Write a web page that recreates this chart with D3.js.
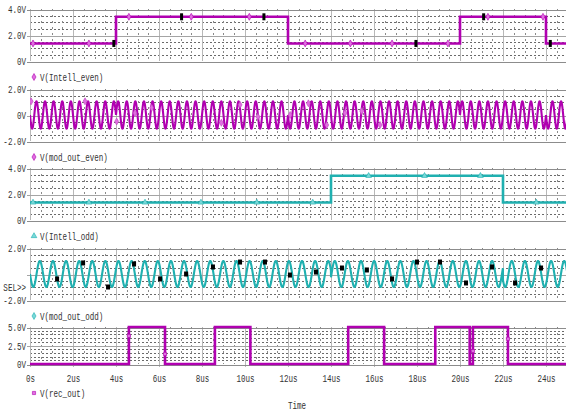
<!DOCTYPE html>
<html><head><meta charset="utf-8">
<script src="https://cdn.jsdelivr.net/npm/d3@7"></script>
<style>
html,body{margin:0;padding:0;background:#fff;}
svg{display:block;}
text{font-family:"Liberation Mono","DejaVu Sans Mono",monospace;font-size:10.5px;fill:#333;}
</style></head><body>
<svg id="chart" width="566" height="413"></svg>
<script>
// ---------------- DATA ----------------
const timeTickValuesUs = [0,2,4,6,8,10,12,14,16,18,20,22,24];
const timeTickLabels = ["0s","2us","4us","6us","8us","10us","12us","14us","16us","18us","20us","22us","24us"];

const panelNames = ["V(Intell_even)","V(mod_out_even)","V(Intell_odd)","V(mod_out_odd)","V(rec_out)"];
const panelYMin = [0,-2,0,-2,0];
const panelYMax = [4,2,4,2,5];
const panelTickValues = [[0,2,4],[-2,0,2],[0,2,4],[-2,0,2],[0,2.5,5]];
const panelTickLabels = [["0V","2.0V","4.0V"],["-2.0V","0V","2.0V"],["0V","2.0V","4.0V"],["-2.0V","","2.0V"],["0V","2.5V","5.0V"]];
const panelMinorStep = [0.5,0.5,0.5,0.5,0.5];

// V(Intell_even): step signal
const intellEvenTimeUs = [0,4,4,12,12,20,20,24,24,25];
const intellEvenVolts  = [1.35,1.35,3.4,3.4,1.35,1.35,3.4,3.4,1.35,1.35];
// V(Intell_odd): step signal
const intellOddTimeUs = [0,14,14,22,22,25];
const intellOddVolts  = [1.35,1.35,3.4,3.4,1.35,1.35];
// V(rec_out): pulses
const recOutTimeUs = [0,4.6,4.6,6.28,6.28,8.6,8.6,10.25,10.25,14.8,14.8,16.47,16.47,18.85,18.85,20.45,20.45,20.6,20.6,22.23,22.23,25];
const recOutVolts  = [0,0,5,5,0,0,5,5,0,0,5,5,0,0,5,5,0,0,5,5,0,0];

// BPSK carriers (mod_out_even / mod_out_odd): symbol boundaries and phase sign, carrier
const evenSymbolStartUs = [0,4,12,20,24];
const evenSymbolSign    = [-1,1,-1,1,-1];
const evenCarrierMHz = 2.5;
const evenAmplitudeV = 1.05;
const oddSymbolStartUs = [0,14,22];
const oddSymbolSign    = [-1,1,-1];
const oddCarrierMHz = 1.64;
const oddAmplitudeV = 1.0;

// trace symbol markers
const evenDiamondTimeUs = [0.14,2.74,4.6,7.5,10.2,12.8,14.9,16.84,19.44,21.3,23.86];
const evenDiamondVolts  = [1.35,1.35,3.4,3.4,3.4,1.35,1.35,1.35,1.35,3.4,3.4];
const evenBlackTimeUs = [3.9,7.05,10.88,17.95,21.1,24.2];
const evenBlackVolts  = [1.35,3.4,3.4,1.35,3.4,1.35];
const modEvenDiamondTimeUs = [0.05,2.56,4.03,4.88,5.66,8.9,9.77,10.6,12.1,12.95,13.8,14.65,15.43,16.28];
const modEvenDiamondVolts  = [1.05,1.05,-0.5,0.15,0.55,-0.6,0.78,-0.13,0,0.9,-0.77,0.15,0.3,-0.77];
const oddTriangleTimeUs = [0.14,2.74,5.35,7.95,10.55,13.15,15.75,18.35,20.95,23.55];
const oddTriangleVolts  = [1.35,1.35,1.35,1.35,1.35,1.35,3.4,3.4,3.4,1.35];
const modOddBlackTimeUs = [1.26,2.47,3.63,4.84,6.05,7.26,8.51,9.77,10.93,12.09,13.3,14.51,15.67,16.84,18.0,19.07,20.28,21.49,22.56,23.77];
const modOddBlackVolts  = [-0.38,0.85,-1.0,0.77,-0.38,0,0.54,0.92,0.92,-0.08,0.15,0.46,0.31,-0.38,0.92,0.92,-0.69,0.54,-0.69,0.46];
const recSquareTimeUs = [4.6,6.28,20.6,22.23];
const recSquareVolts  = [3.8,1.35,1.75,3.4];

// ---------------- LAYOUT ----------------
const W = 566, H = 413;
const magenta = "#b000b0", teal = "#1fb0b0";
const panelTop = [9,89,168,248,327];
const panelBottom = [61,141,220,300,364];
const plotLeft = 30;
const sx = 0.72;

const svg = d3.select("#chart");
const x = d3.scaleLinear().domain([0,25]).range([plotLeft, 567.5]);

const defs = svg.append("defs");

function label(g, px, py, str, anchor, fill){
  return g.append("text").attr("transform",`translate(${px},${py}) scale(${sx},1)`)
    .attr("text-anchor",anchor||"start").attr("fill",fill||"#333").text(str);
}
function zip(a,b){ return a.map((v,i)=>[v,b[i]]); }
function bpsk(starts, signs, f, amp){
  return d3.range(0, 25.0001, 0.004).map(t=>{
    const k = Math.max(0, d3.bisectRight(starts, t)-1);
    return [t, amp*signs[k]*Math.sin(2*Math.PI*f*t)];
  });
}

const traces = [
  {data: zip(intellEvenTimeUs,intellEvenVolts), color: magenta, w: 2.6},
  {data: bpsk(evenSymbolStartUs, evenSymbolSign, evenCarrierMHz, evenAmplitudeV), color: magenta, w: 2.1},
  {data: zip(intellOddTimeUs,intellOddVolts), color: teal, w: 2.6},
  {data: bpsk(oddSymbolStartUs, oddSymbolSign, oddCarrierMHz, oddAmplitudeV), color: teal, w: 2.1},
  {data: zip(recOutTimeUs,recOutVolts), color: magenta, w: 2.6}
];
const legendSym = ["diamond","diamond","triangle","diamond","square"];
const legendCol = [magenta, magenta, teal, teal, magenta];

const minorX = d3.range(0, 25.01, 0.5).filter(t => Math.abs(t/2 - Math.round(t/2)) > 1e-6);

panelNames.forEach((name, i) => {
  const top = panelTop[i], bot = panelBottom[i];
  const y = d3.scaleLinear().domain([panelYMin[i], panelYMax[i]]).range([bot, top]);
  const g = svg.append("g");

  // minor horizontal dotted lines
  const minorY = d3.range(panelYMin[i], panelYMax[i] + 1e-6, panelMinorStep[i])
    .filter(v => !panelTickValues[i].some(t => Math.abs(t - v) < 1e-6));
  g.selectAll(".mh").data(minorY).join("line")
    .attr("x1", plotLeft).attr("x2", W)
    .attr("y1", d => Math.round(y(d)) + 0.5).attr("y2", d => Math.round(y(d)) + 0.5)
    .attr("stroke", "#6a6a6a").attr("stroke-width", 1).attr("stroke-dasharray", "2,2");
  // minor vertical dotted lines
  g.selectAll(".mv").data(minorX).join("line")
    .attr("x1", d => Math.round(x(d)) + 0.5).attr("x2", d => Math.round(x(d)) + 0.5)
    .attr("y1", top).attr("y2", bot)
    .attr("stroke", "#8a8a8a").attr("stroke-width", 1).attr("stroke-dasharray", "2,4");
  // major vertical
  g.selectAll(".Mv").data(timeTickValuesUs).join("line")
    .attr("x1", d => Math.round(x(d)) + 0.5).attr("x2", d => Math.round(x(d)) + 0.5)
    .attr("y1", top).attr("y2", bot + (i === 4 ? 3 : 0))
    .attr("stroke", "#b8b8b8").attr("stroke-width", 1);
  // major horizontal via axis
  const ax = d3.axisLeft(y).tickValues(panelTickValues[i])
    .tickFormat((d, k) => panelTickLabels[i][k]).tickSizeInner(-(W - plotLeft + 3)).tickSizeOuter(0).tickPadding(0);
  const axg = g.append("g").attr("transform", `translate(${plotLeft - 3},0)`).call(ax);
  axg.select(".domain").remove();
  axg.selectAll(".tick line").attr("stroke", (d) => (d === panelYMin[i] || d === panelYMax[i]) ? "#8c8c8c" : "#a4a4a4")
    .attr("transform", "translate(0,0.5)").attr("shape-rendering", "crispEdges");
  axg.selectAll(".tick text").attr("x", 0).attr("dy", "0.35em")
    .attr("transform", `translate(-1,0) scale(${sx},1)`).attr("fill", "#333")
    .style("font-family", '"Liberation Mono","DejaVu Sans Mono",monospace').style("font-size", "10.5px");
  axg.attr("font-family", null).attr("font-size", null);

  // clip
  defs.append("clipPath").attr("id", "clip" + i).append("rect")
    .attr("x", plotLeft).attr("y", top - 3).attr("width", W - plotLeft).attr("height", bot - top + 6);
  const tg = g.append("g").attr("clip-path", `url(#clip${i})`);
  const line = d3.line().x(d => x(d[0])).y(d => y(d[1]));
  tg.append("path").datum(traces[i].data).attr("d", line)
    .attr("fill", "none").attr("stroke", traces[i].color).attr("stroke-width", traces[i].w)
    .attr("stroke-linejoin", "miter");

  // markers
  const diamond = d3.symbol().type(d3.symbolDiamond).size(14);
  const tri = d3.symbol().type(d3.symbolTriangle).size(14);
  const sq = d3.symbol().type(d3.symbolSquare).size(10);
  if (i === 0) {
    tg.selectAll(".dm").data(zip(evenDiamondTimeUs, evenDiamondVolts)).join("path")
      .attr("d", diamond).attr("transform", d => `translate(${x(d[0])},${y(d[1])})`)
      .attr("fill", "#e070e0").attr("stroke", magenta).attr("stroke-width", 0.6);
    tg.selectAll(".bk").data(zip(evenBlackTimeUs, evenBlackVolts)).join("rect")
      .attr("x", d => x(d[0]) - 1.5).attr("y", d => y(d[1]) - 3.5).attr("width", 3).attr("height", 7).attr("fill", "#000");
  }
  if (i === 1) {
    tg.selectAll(".dm").data(zip(modEvenDiamondTimeUs, modEvenDiamondVolts)).join("path")
      .attr("d", diamond).attr("transform", d => `translate(${x(d[0])},${y(d[1])})`)
      .attr("fill", "#e070e0").attr("stroke", "#c040c0").attr("stroke-width", 0.6);
  }
  if (i === 2) {
    tg.selectAll(".tr").data(zip(oddTriangleTimeUs, oddTriangleVolts)).join("path")
      .attr("d", tri).attr("transform", d => `translate(${x(d[0])},${y(d[1])})`)
      .attr("fill", "#7ad8d8").attr("stroke", teal).attr("stroke-width", 0.6);
  }
  if (i === 3) {
    tg.selectAll(".bk").data(zip(modOddBlackTimeUs, modOddBlackVolts)).join("rect")
      .attr("x", d => x(d[0]) - 2).attr("y", d => y(d[1]) - 2.5).attr("width", 4).attr("height", 5).attr("fill", "#000");
  }
  if (i === 4) {
    tg.selectAll(".sq").data(zip(recSquareTimeUs, recSquareVolts)).join("path")
      .attr("d", sq).attr("transform", d => `translate(${x(d[0])},${y(d[1])})`)
      .attr("fill", "#e070e0").attr("stroke", magenta).attr("stroke-width", 0.6);
  }

  // legend
  const ly = (i === 4) ? 393 : bot + 16;
  const symGen = legendSym[i] === "triangle" ? tri : legendSym[i] === "square" ? sq : diamond;
  g.append("path").attr("d", symGen).attr("transform", `translate(34,${ly})`)
    .attr("fill", legendCol[i] === teal ? "#7ad8d8" : "#e070e0").attr("stroke", legendCol[i]).attr("stroke-width", 0.6);
  label(g, 40, ly + 3.5, name);

  if (i === 3) label(g, 26, y(-1.05) + 3.5, "SEL>>", "end");

  if (i === 4) {
    const xa = d3.axisBottom(x).tickValues(timeTickValuesUs).tickFormat((d, k) => timeTickLabels[k])
      .tickSizeInner(0).tickSizeOuter(0).tickPadding(0);
    const xg = svg.append("g").attr("transform", `translate(0,${bot})`).call(xa);
    xg.select(".domain").remove();
    xg.selectAll(".tick line").remove();
    xg.selectAll(".tick text").attr("y", 18.5).attr("dy", 0)
      .attr("transform", `scale(${sx},1)`).attr("fill", "#333")
      .style("font-family", '"Liberation Mono","DejaVu Sans Mono",monospace').style("font-size", "10.5px");
    label(svg, 297, 409, "Time", "middle");
  }
});
</script>
</body></html>
